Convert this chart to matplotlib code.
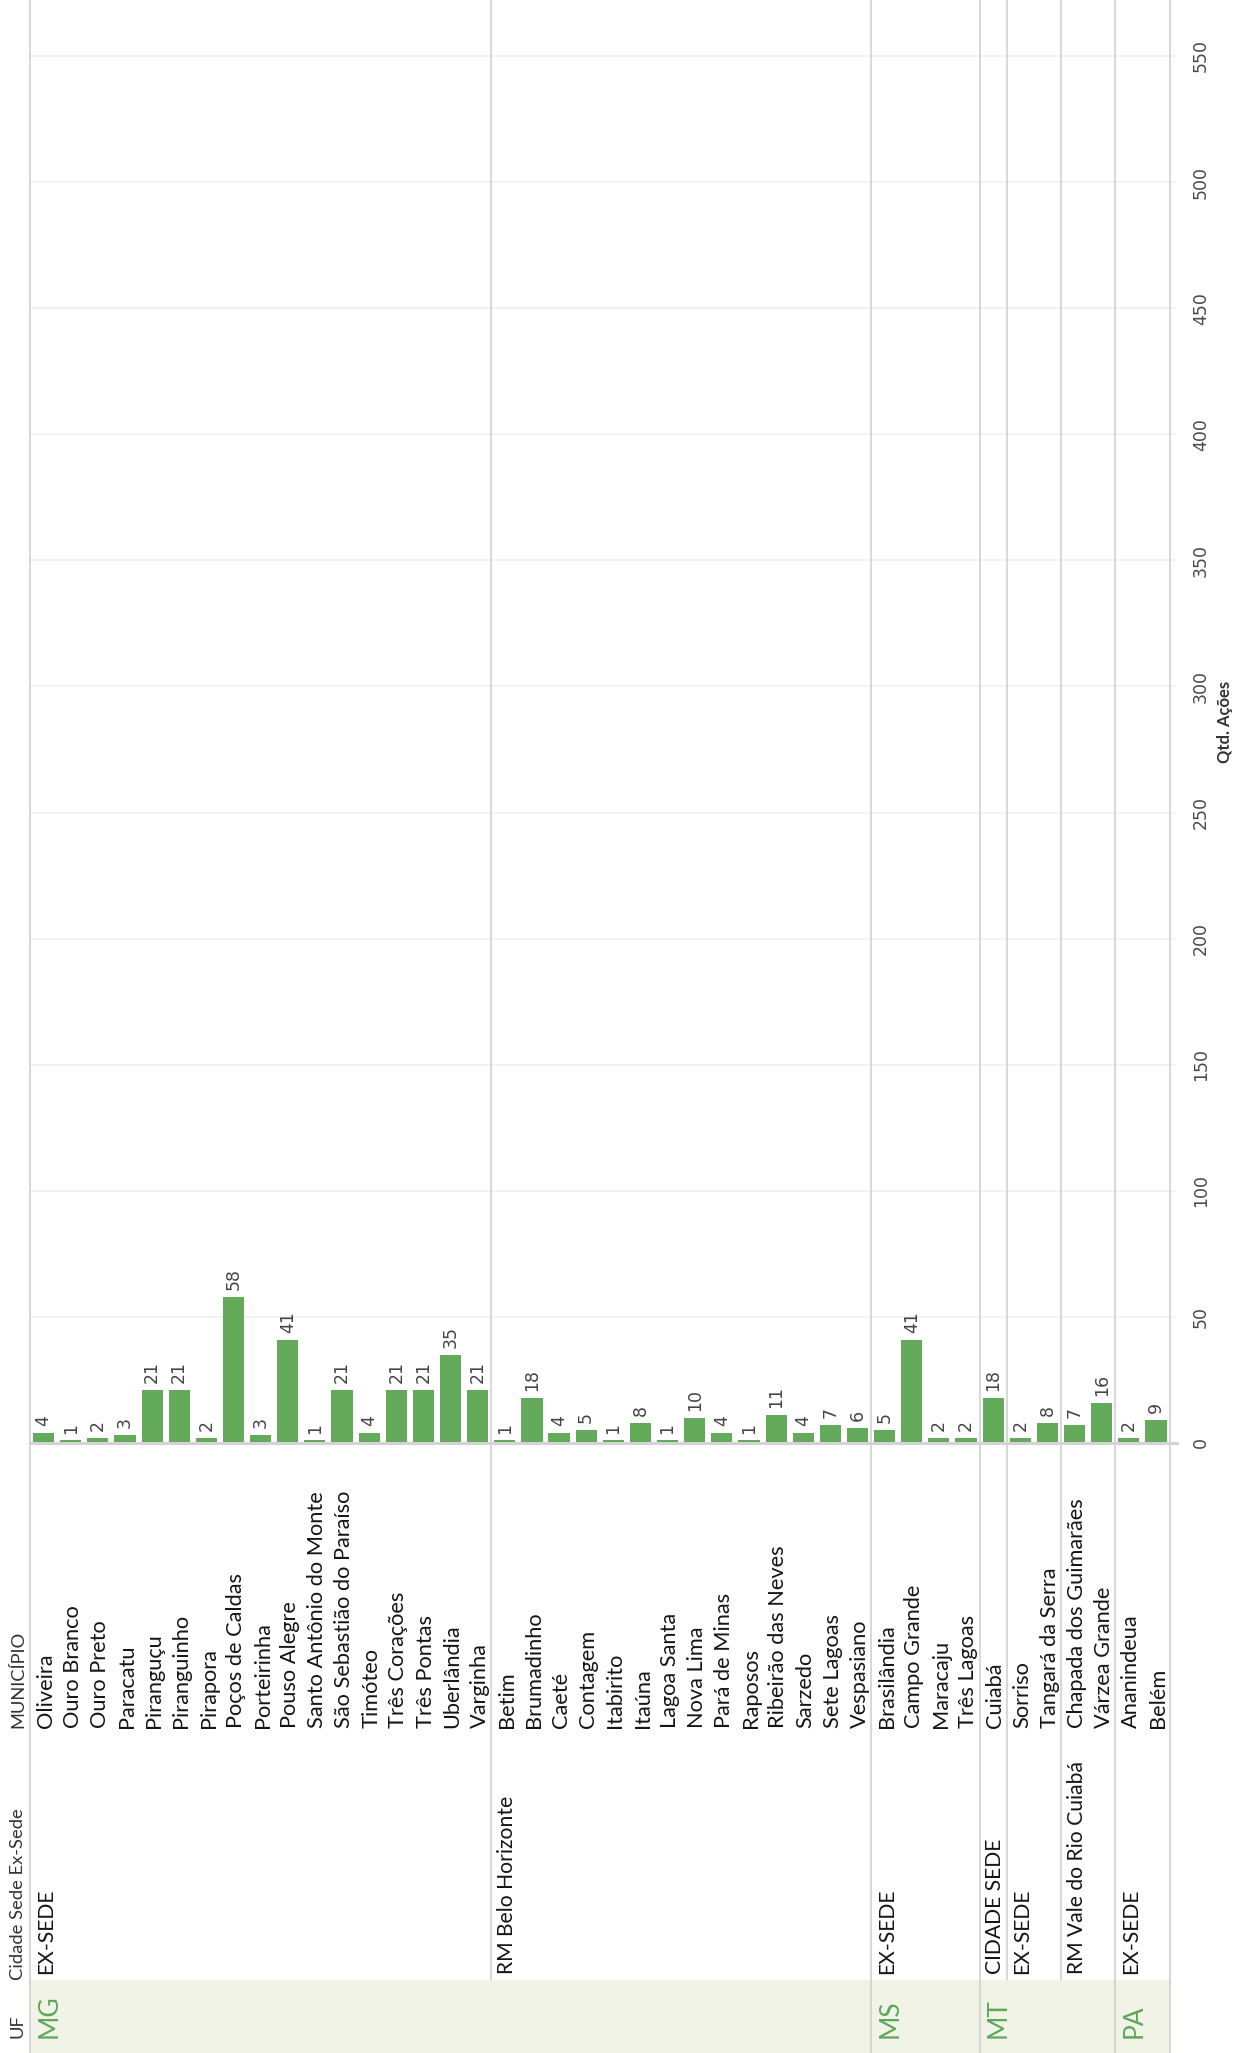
import matplotlib
matplotlib.use("Agg")
import matplotlib.pyplot as plt
from itertools import groupby
import numpy as np

# data -----------------------------------------------------------------
uf = ["MG"] * 31 + ["MS"] * 4 + ["MT"] * 5 + ["PA"] * 2
cidade_sede = (["EX-SEDE"] * 17 + ["RM Belo Horizonte"] * 14 + ["EX-SEDE"] * 4
               + ["CIDADE SEDE"] + ["EX-SEDE"] * 2 + ["RM Vale do Rio Cuiabá"] * 2
               + ["EX-SEDE"] * 2)
municipio = [
    "Oliveira", "Ouro Branco", "Ouro Preto", "Paracatu", "Piranguçu", "Piranguinho",
    "Pirapora", "Poços de Caldas", "Porteirinha", "Pouso Alegre",
    "Santo Antônio do Monte", "São Sebastião do Paraíso", "Timóteo", "Três Corações",
    "Três Pontas", "Uberlândia", "Varginha",
    "Betim", "Brumadinho", "Caeté", "Contagem", "Itabirito", "Itaúna", "Lagoa Santa",
    "Nova Lima", "Pará de Minas", "Raposos", "Ribeirão das Neves", "Sarzedo",
    "Sete Lagoas", "Vespasiano",
    "Brasilândia", "Campo Grande", "Maracaju", "Três Lagoas",
    "Cuiabá", "Sorriso", "Tangará da Serra", "Chapada dos Guimarães", "Várzea Grande",
    "Ananindeua", "Belém",
]
qtd_acoes = [4, 1, 2, 3, 21, 21, 2, 58, 3, 41, 1, 21, 4, 21, 21, 35, 21,
             1, 18, 4, 5, 1, 8, 1, 10, 4, 1, 11, 4, 7, 6,
             5, 41, 2, 2,
             18, 2, 8, 7, 16,
             2, 9]
value_ticks = list(range(0, 551, 50))

# layout (pixels of the 1235x2053 output) --------------------------------
W, H, DPI = 1235, 2053, 100
PANE_L, PANE_R = 30, 1169.5
BASE_Y = 1443
BAND_Y = 1980
MUNI_Y = 1728
SEDE_Y = 1974
UF_Y = 2038

GREEN = "#63AA5A"
SEP = "#D4D4D4"


def fx(x):
    return x / W


def fy(y):
    return 1 - y / H


def groups(keys):
    out, i = [], 0
    for k, g in groupby(keys):
        n = len(list(g))
        out.append((k, i, i + n))
        i += n
    return out


n = len(municipio)
xs = np.arange(n)
uf_groups = groups(uf)
sede_groups = groups(list(zip(uf, cidade_sede)))

fig = plt.figure(figsize=(W / DPI, H / DPI), dpi=DPI)
fig.patch.set_facecolor("white")

ax = fig.add_axes([fx(PANE_L), fy(BASE_Y), fx(PANE_R) - fx(PANE_L), BASE_Y / H])
tab = fig.add_axes([fx(PANE_L), 0, fx(PANE_R) - fx(PANE_L), fy(BASE_Y)])

# bar pane
ax.set_xlim(-0.5, n - 0.5)
ax.set_ylim(0, 572.2)
for v in value_ticks[1:]:
    ax.axhline(v, xmax=1.005, color="#F0F0F0", lw=1.2, zorder=0, clip_on=False)
bars = ax.bar(xs, qtd_acoes, width=0.78, color=GREEN, zorder=2)
ax.bar_label(bars, padding=5, rotation=90, fontsize=12.5, color="#444444",
             family="DejaVu Sans")
ax.axhline(0, xmax=1.007, color="#D3D3D3", lw=2.2, zorder=3, clip_on=False)
for _, a, b in sede_groups:
    ax.axvline(a - 0.5, color=SEP, lw=1.3, zorder=1, clip_on=False)
ax.axvline(n - 0.5, color=SEP, lw=1.3, zorder=1, clip_on=False)

for s in ax.spines.values():
    s.set_visible(False)
ax.set_xticks([])
ax.yaxis.tick_right()
ax.set_yticks(value_ticks)
ax.set_yticklabels([str(v) for v in value_ticks], rotation=90, va="center",
                   fontsize=12.5, color="#4a4a4a", family="DejaVu Sans")
ax.tick_params(axis="y", length=0, pad=16)
fig.text(fx(1225), fy(BASE_Y / 2), "Qtd. Ações", rotation=90, ha="center",
         va="center", fontsize=12, fontweight="bold", color="#333333", family="Lato")

# table below
tab.set_xlim(-0.5, n - 0.5)
tab.set_ylim(H, BASE_Y)
tab.axis("off")
tab.axhspan(BAND_Y, H, color="#F0F3E6", zorder=0)
uf_edges = {a for _, a, _ in uf_groups} | {n}
for _, a, b in sede_groups:
    if a not in uf_edges:
        tab.vlines(a - 0.5, BASE_Y, BAND_Y, color=SEP, lw=1.3)
for e in uf_edges:
    tab.vlines(e - 0.5, BASE_Y, H, color=SEP, lw=1.3, clip_on=False)

for i, name in enumerate(municipio):
    tab.text(i + 0.08, MUNI_Y, name, rotation=90, ha="center", va="bottom",
             fontsize=15.7, color="#151515", family="Lato")
for (u, sede), a, b in sede_groups:
    tab.text(a + 0.08, SEDE_Y, sede, rotation=90, ha="center", va="bottom",
             fontsize=15.2, color="#151515", family="Lato")
for u, a, b in uf_groups:
    tab.text(a + 0.2, UF_Y, u, rotation=90, ha="center", va="bottom",
             fontsize=19, color="#5DA75A", family="Lato")

# header column
fig.text(fx(18), fy(UF_Y), "UF", rotation=90, ha="center", va="bottom",
         fontsize=13.2, color="#333333", family="Lato")
fig.text(fx(18), fy(1980), "Cidade Sede Ex-Sede", rotation=90, ha="center",
         va="bottom", fontsize=13.2, color="#333333", family="Lato")
fig.text(fx(18), fy(MUNI_Y), "MUNICÍPIO", rotation=90, ha="center", va="bottom",
         fontsize=13.2, color="#333333", family="Lato")

fig.savefig("out.png", dpi=DPI)
